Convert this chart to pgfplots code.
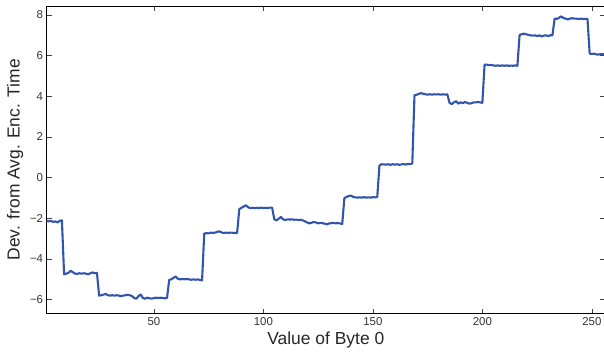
\documentclass[border=0pt]{standalone}
\usepackage{pgfplots}
\pgfplotsset{compat=1.18}
\usepackage{fontspec}
\setmainfont{Liberation Sans}
\definecolor{lineblue}{RGB}{50,84,172}
\begin{document}
\begin{tikzpicture}
\begin{axis}[
  scale only axis,
  width=557.5pt, height=307pt,
  xmin=1, xmax=256,
  ymin=-6.68, ymax=8.44,
  xtick={50,100,150,200,250},
  ytick={-6,-4,-2,0,2,4,6,8},
  yticklabels={−6,−4,−2,0,2,4,6,8},
  /pgf/number format/assume math mode=true,
  tick align=inside,
  major tick length=5pt,
  tick style={black!75, line width=0.6pt},
  axis line style={black, line width=0.8pt},
  ticklabel style={font=\fontsize{11.4}{13}\selectfont, text=black!80},
  label style={font=\fontsize{17.4}{20}\selectfont, text=black!85},
  xlabel={Value of Byte 0},
  ylabel={Dev. from Avg. Enc. Time},
  clip=false,
]
\addplot[color=lineblue, line width=2.1pt, line join=round] coordinates {
(1,-2.12)(2,-2.15)(3,-2.12)(4,-2.18)(5,-2.15)(6,-2.2)(7,-2.12)(8,-2.1)
(9,-4.75)(10,-4.72)(11,-4.68)(12,-4.58)(13,-4.65)(14,-4.72)(15,-4.73)(16,-4.7)
(17,-4.72)(18,-4.7)(19,-4.72)(20,-4.75)(21,-4.7)(22,-4.66)(23,-4.7)(24,-4.68)
(25,-5.8)(26,-5.78)(27,-5.75)(28,-5.72)(29,-5.78)(30,-5.8)(31,-5.78)(32,-5.8)
(33,-5.78)(34,-5.8)(35,-5.82)(36,-5.8)(37,-5.78)(38,-5.76)(39,-5.78)(40,-5.82)
(41,-5.92)(42,-5.95)(43,-5.82)(44,-5.75)(45,-5.92)(46,-5.95)(47,-5.9)(48,-5.93)
(49,-5.95)(50,-5.92)(51,-5.9)(52,-5.92)(53,-5.9)(54,-5.92)(55,-5.93)(56,-5.92)
(57,-5.02)(58,-5.0)(59,-4.92)(60,-4.86)(61,-4.98)(62,-5.0)(63,-4.98)(64,-5.0)
(65,-4.98)(66,-5.0)(67,-5.02)(68,-5.0)(69,-5.02)(70,-5.0)(71,-5.03)(72,-5.05)
(73,-2.75)(74,-2.73)(75,-2.74)(76,-2.7)(77,-2.72)(78,-2.7)(79,-2.66)(80,-2.64)
(81,-2.7)(82,-2.72)(83,-2.7)(84,-2.72)(85,-2.7)(86,-2.71)(87,-2.72)(88,-2.72)
(89,-1.55)(90,-1.48)(91,-1.42)(92,-1.36)(93,-1.45)(94,-1.5)(95,-1.48)(96,-1.5)
(97,-1.48)(98,-1.5)(99,-1.47)(100,-1.5)(101,-1.48)(102,-1.5)(103,-1.47)(104,-1.48)
(105,-2.05)(106,-2.1)(107,-2.02)(108,-1.93)(109,-2.05)(110,-2.08)(111,-2.05)(112,-2.06)
(113,-2.05)(114,-2.07)(115,-2.06)(116,-2.08)(117,-2.07)(118,-2.1)(119,-2.15)(120,-2.2)
(121,-2.25)(122,-2.22)(123,-2.18)(124,-2.2)(125,-2.25)(126,-2.22)(127,-2.24)(128,-2.26)
(129,-2.3)(130,-2.25)(131,-2.24)(132,-2.22)(133,-2.25)(134,-2.23)(135,-2.25)(136,-2.28)
(137,-1.0)(138,-0.95)(139,-0.9)(140,-0.88)(141,-0.95)(142,-0.97)(143,-0.98)(144,-0.97)
(145,-0.98)(146,-0.96)(147,-0.98)(148,-0.97)(149,-0.98)(150,-0.96)(151,-0.97)(152,-0.95)
(153,0.6)(154,0.66)(155,0.65)(156,0.64)(157,0.66)(158,0.63)(159,0.66)(160,0.64)
(161,0.66)(162,0.63)(163,0.65)(164,0.67)(165,0.64)(166,0.68)(167,0.66)(168,0.7)
(169,4.05)(170,4.08)(171,4.12)(172,4.16)(173,4.12)(174,4.1)(175,4.08)(176,4.1)
(177,4.08)(178,4.1)(179,4.09)(180,4.1)(181,4.08)(182,4.1)(183,4.08)(184,4.1)
(185,3.68)(186,3.62)(187,3.7)(188,3.76)(189,3.64)(190,3.7)(191,3.66)(192,3.72)
(193,3.68)(194,3.64)(195,3.66)(196,3.7)(197,3.7)(198,3.72)(199,3.7)(200,3.68)
(201,5.55)(202,5.56)(203,5.53)(204,5.54)(205,5.52)(206,5.5)(207,5.52)(208,5.5)
(209,5.52)(210,5.5)(211,5.52)(212,5.5)(213,5.51)(214,5.5)(215,5.52)(216,5.5)
(217,7.02)(218,7.05)(219,7.08)(220,7.05)(221,7.02)(222,7.0)(223,6.98)(224,7.0)
(225,6.96)(226,7.0)(227,6.95)(228,6.98)(229,7.0)(230,6.96)(231,7.0)(232,7.0)
(233,7.82)(234,7.8)(235,7.86)(236,7.93)(237,7.85)(238,7.82)(239,7.78)(240,7.82)
(241,7.84)(242,7.82)(243,7.82)(244,7.8)(245,7.82)(246,7.8)(247,7.81)(248,7.8)
(249,6.1)(250,6.08)(251,6.1)(252,6.06)(253,6.05)(254,6.08)(255,6.06)(256,6.1)
};
\coordinate (tr) at (rel axis cs:1,1);
\coordinate (bl) at (rel axis cs:0,0);
\end{axis}
\pgfresetboundingbox
\useasboundingbox ([xshift=-46.5pt,yshift=-42pt]bl) rectangle ([xshift=-1pt,yshift=6pt]tr);
\end{tikzpicture}
\end{document}
